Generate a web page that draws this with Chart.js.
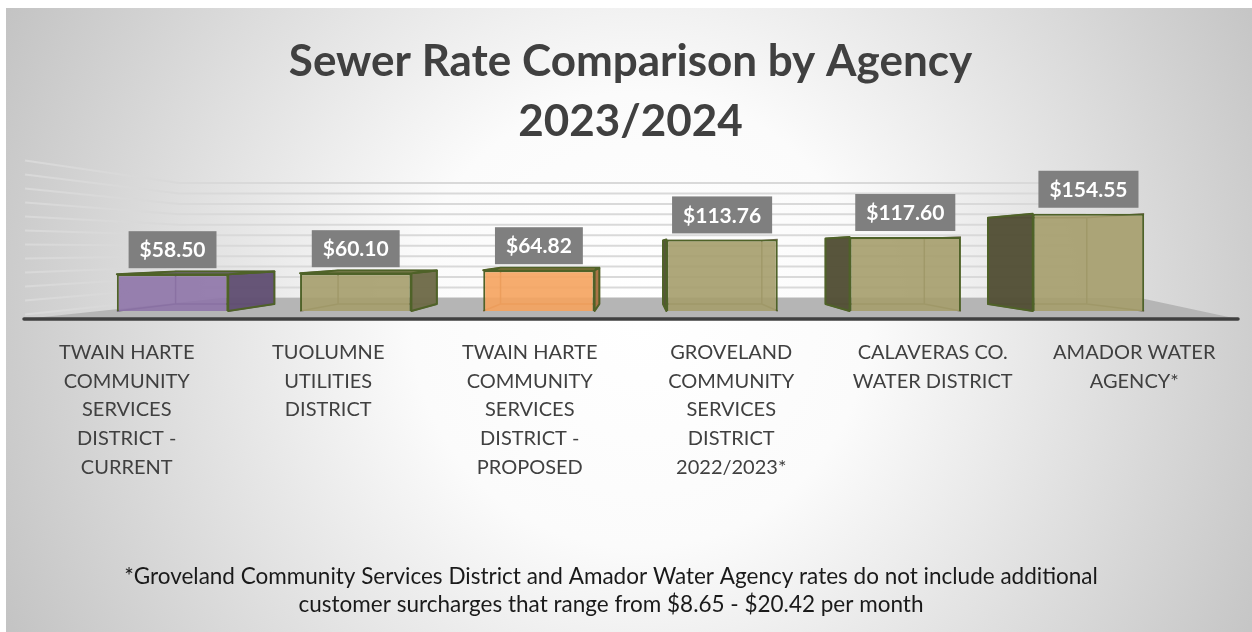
<!DOCTYPE html>
<html>
<head>
<meta charset="utf-8">
<script src="https://cdn.jsdelivr.net/npm/chart.js@4.4.0/dist/chart.umd.min.js"></script>
<style>
html,body{margin:0;padding:0;background:#fff;overflow:hidden}
#wrap{width:1252px;height:632px;position:relative}
canvas{display:block}
</style>
</head>
<body>
<div id="wrap"><canvas id="c" width="1252" height="632"></canvas></div>
<script>
// ---------------- data ----------------
const titleLines = ["Sewer Rate Comparison by Agency", "2023/2024"];
const categories = [
  ["TWAIN HARTE", "COMMUNITY", "SERVICES", "DISTRICT -", "CURRENT"],
  ["TUOLUMNE", "UTILITIES", "DISTRICT"],
  ["TWAIN HARTE", "COMMUNITY", "SERVICES", "DISTRICT -", "PROPOSED"],
  ["GROVELAND", "COMMUNITY", "SERVICES", "DISTRICT", "2022/2023*"],
  ["CALAVERAS CO.", "WATER DISTRICT"],
  ["AMADOR WATER", "AGENCY*"]
];
const rates = [58.50, 60.10, 64.82, 113.76, 117.60, 154.55];
const barColors = ["#8e74a9", "#a59d6b", "#f5a35e", "#a59d6b", "#a59d6b", "#a59d6b"];
const gridTicks = [0, 20, 40, 60, 80, 100, 120, 140, 160, 180, 200, 220];
const footnote = [
  "*Groveland Community Services District and Amador Water Agency rates do not include additional",
  "customer surcharges that range from $8.65 - $20.42 per month"
];

// ---------------- helpers ----------------
function hexToRgb(h){ const n=parseInt(h.slice(1),16); return [(n>>16)&255,(n>>8)&255,n&255]; }
function rgba(h,a){ const c=hexToRgb(h); return `rgba(${c[0]},${c[1]},${c[2]},${a})`; }
function shade(h,f,a){ const c=hexToRgb(h).map(v=>Math.round(v*f)); return `rgba(${c[0]},${c[1]},${c[2]},${a===undefined?1:a})`; }
const money = v => "$" + v.toFixed(2);
const FONT = "Lato, 'Open Sans', sans-serif";
const EDGE = "#4f6228";

// ---------------- plugins ----------------
const bgPlugin = {
  id: 'bg',
  beforeDraw(chart){
    const ctx = chart.ctx, W = chart.width, H = chart.height;
    ctx.save();
    ctx.fillStyle = '#ffffff';
    ctx.fillRect(0,0,W,H);
    const g = ctx.createRadialGradient(640,320,0,640,320,760);
    g.addColorStop(0,'#ffffff');
    g.addColorStop(0.3,'#fbfbfb');
    g.addColorStop(1,'#bdbdbd');
    ctx.fillStyle = g;
    ctx.fillRect(6,8,W-6,H-8);
    ctx.restore();
  },
  afterDraw(chart){
    // footnote below the category labels
    const ctx = chart.ctx;
    ctx.save();
    ctx.font = `22.5px ${FONT}`;
    ctx.fillStyle = '#1a1a1a';
    ctx.textAlign = 'center';
    ctx.textBaseline = 'middle';
    footnote.forEach((line, i) => ctx.fillText(line, 611, 577 + i*28));
    ctx.restore();
  }
};

function geometry(chart){
  const ca = chart.chartArea;
  const ys = chart.scales.y, y2 = chart.scales.y2;
  const vx = (ca.left + ca.right)/2 + 6;
  const vy = ys.getPixelForValue(98);
  return {ca, ys, y2, vx, vy, k: 0.887, kw: 0.747};
}

const boxPlugin = {
  id: 'boxes3d',
  beforeDatasetsDraw(chart){
    const ctx = chart.ctx;
    const {ca, ys, y2, vx, vy, k, kw} = geometry(chart);
    const frontL = ca.left - 2, frontR = ca.right + 3;
    const wallL = vx + kw*(frontL - vx), wallR = vx + kw*(frontR - vx);
    ctx.save();
    // back wall + left wall grid lines
    ctx.strokeStyle = '#d9d9d9';
    ctx.lineWidth = 2;
    gridTicks.forEach(v => {
      const yb = y2.getPixelForValue(v);
      const yl = vy + (yb - vy)/kw;
      ctx.beginPath();
      ctx.moveTo(frontL + 1, yl);
      ctx.lineTo(wallL, yb);
      ctx.lineTo(wallR, yb);
      ctx.stroke();
    });
    // floor
    const yf = ys.getPixelForValue(0) + 8;
    const yfb = y2.getPixelForValue(0);
    ctx.fillStyle = '#b5b5b5';
    ctx.beginPath();
    ctx.moveTo(frontL, yf);
    ctx.lineTo(frontR, yf);
    ctx.lineTo(1140, yfb);
    ctx.lineTo(222, yfb);
    ctx.closePath();
    ctx.fill();
    ctx.strokeStyle = '#404040';
    ctx.lineWidth = 3.5;
    ctx.lineCap = 'round';
    ctx.beginPath();
    ctx.moveTo(frontL, yf);
    ctx.lineTo(frontR, yf);
    ctx.stroke();
    ctx.lineCap = 'butt';

    // 3D box parts behind the front faces
    const meta = chart.getDatasetMeta(0);
    const bx = px => vx + k*(px - vx);
    const by = py => vy + k*(py - vy);
    meta.data.forEach((bar, i) => {
      const p = bar.getProps(['x','y','base','width'], true);
      const L = p.x - p.width/2, R = p.x + p.width/2, T = p.y, B = p.base;
      const col = barColors[i];
      // hidden edges (seen through translucent front)
      ctx.strokeStyle = shade(col, 0.6, 0.9);
      ctx.lineWidth = 1.5;
      ctx.beginPath();
      ctx.rect(bx(L), by(T), bx(R)-bx(L), by(B)-by(T));
      ctx.moveTo(L,B); ctx.lineTo(bx(L), by(B));
      ctx.moveTo(R,B); ctx.lineTo(bx(R), by(B));
      ctx.moveTo(L,T); ctx.lineTo(bx(L), by(T));
      ctx.moveTo(R,T); ctx.lineTo(bx(R), by(T));
      ctx.stroke();
      // side face
      const sx = p.x < vx ? R : L;
      const f = p.x < vx ? 0.68 : 0.5;
      ctx.fillStyle = shade(col, f, 0.97);
      ctx.strokeStyle = EDGE;
      ctx.lineWidth = 2;
      ctx.lineJoin = 'round';
      ctx.beginPath();
      ctx.moveTo(sx, T);
      ctx.lineTo(bx(sx), by(T));
      ctx.lineTo(bx(sx), by(B));
      ctx.lineTo(sx, B);
      ctx.closePath();
      ctx.fill();
      ctx.stroke();
      // top face when looking down on it
      if (T > vy) {
        ctx.fillStyle = shade(col, 0.85, 0.95);
        ctx.beginPath();
        ctx.moveTo(L, T);
        ctx.lineTo(R, T);
        ctx.lineTo(bx(R), by(T));
        ctx.lineTo(bx(L), by(T));
        ctx.closePath();
        ctx.fill();
        ctx.stroke();
      }
    });
    ctx.restore();
  },
  afterDatasetsDraw(chart){
    const ctx = chart.ctx;
    const meta = chart.getDatasetMeta(0);
    ctx.save();
    ctx.font = `bold 21px ${FONT}`;
    ctx.textAlign = 'center';
    ctx.textBaseline = 'middle';
    meta.data.forEach((bar, i) => {
      const p = bar.getProps(['x','y'], true);
      const txt = money(rates[i]);
      const w = ctx.measureText(txt).width + 22, h = 37;
      const bottom = p.y - 6;
      ctx.fillStyle = '#7f7f7f';
      ctx.fillRect(p.x - w/2, bottom - h, w, h);
      ctx.fillStyle = '#ffffff';
      ctx.fillText(txt, p.x, bottom - h/2 + 1);
    });
    ctx.restore();
  }
};

// ---------------- chart ----------------
Chart.defaults.font.family = FONT;
new Chart(document.getElementById('c').getContext('2d'), {
  type: 'bar',
  data: {
    labels: categories,
    datasets: [{
      data: rates.map((v, i) => ({x: i, y: v})),
      xAxisID: 'x',
      yAxisID: 'y',
      backgroundColor: barColors.map(c => rgba(c, 0.9)),
      borderColor: EDGE,
      borderWidth: 2,
      barPercentage: 0.608,
      categoryPercentage: 1
    }]
  },
  options: {
    responsive: false,
    animation: false,
    events: [],
    layout: {padding: {left: 26, right: 17, top: 8, bottom: 69}},
    plugins: {
      legend: {display: false},
      tooltip: {enabled: false},
      title: {
        display: true, text: titleLines, color: '#404040',
        font: {family: FONT, weight: 'bold', size: 44, lineHeight: '60px'},
        padding: {top: 24, bottom: 8}
      }
    },
    scales: {
      x: {
        type: 'linear', min: -0.8, max: 5.8, display: false, offset: false,
        afterBuildTicks(s){ s.ticks = s.ticks.filter(t => Number.isInteger(t.value)); }
      },
      xl: {
        type: 'category', position: 'bottom', offset: true,
        grid: {display: false, drawTicks: false}, border: {display: false},
        ticks: {color: '#404040', font: {family: FONT, size: 20, lineHeight: '28.8px'},
                padding: 27, maxRotation: 0, minRotation: 0, autoSkip: false},
        afterFit(s){ s.height = 252; }
      },
      y: {min: 0, max: 240, display: false},
      y2: {min: -25, max: 264, display: false}
    }
  },
  plugins: [bgPlugin, boxPlugin]
});
</script>
</body>
</html>
